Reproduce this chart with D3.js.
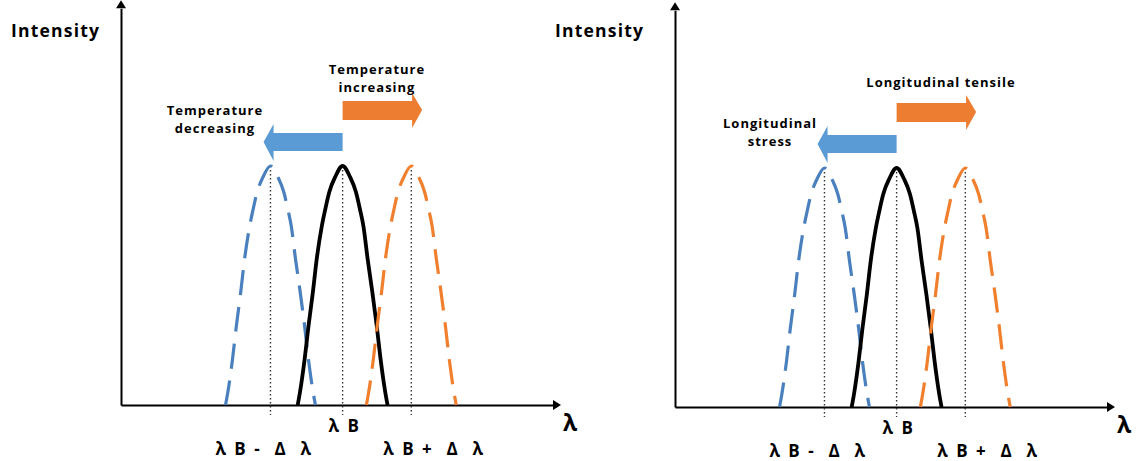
<!DOCTYPE html>
<html>
<head>
<meta charset="utf-8">
<script src="https://cdn.jsdelivr.net/npm/d3@7"></script>
<style>
  body { margin: 0; background: #fff; }
  text { font-family: "Open Sans", sans-serif; font-weight: bold; fill: #000; white-space: pre; }
</style>
</head>
<body>
<script>
// spectrum shape (relative wavelength units, 0..100 along the axis)
const intensity    = [0, 0.05, 0.19, 0.33, 0.47, 0.61, 0.75, 0.82, 0.89, 0.955, 1, 0.955, 0.89, 0.82, 0.75, 0.61, 0.47, 0.33, 0.19, 0.05, 0];
const blueLambda   = [24.2, 24.7, 25.8, 26.7, 27.7, 28.6, 29.8, 30.6, 31.5, 32.9, 34.6, 36.3, 37.7, 38.6, 39.4, 40.4, 41.5, 42.5, 43.4, 44.5, 45.0];
const blackLambda  = [40.9, 41.4, 42.5, 43.4, 44.4, 45.3, 46.5, 47.3, 48.2, 49.6, 51.3, 53.0, 54.4, 55.3, 56.1, 57.1, 58.2, 59.2, 60.1, 61.2, 61.7];
const orangeLambda = [56.8, 57.3, 58.4, 59.3, 60.3, 61.2, 62.4, 63.2, 64.1, 65.5, 67.2, 68.9, 70.3, 71.2, 72.0, 73.0, 74.1, 75.1, 76.0, 77.1, 77.6];

const peakCenters = [34.6, 51.3, 67.2];
const peakLabels  = ["λ B -  Δ  λ", "λ B", "λ B +  Δ  λ"];

const leftShiftText  = [["Temperature", "decreasing"], ["Temperature", "increasing"]];
const rightShiftText = [["Longitudinal", "stress"], ["Longitudinal tensile"]];

const W = 1138, H = 461;
const plotW = 432, plotH = 239;

const x = d3.scaleLinear().domain([0, 100]).range([0, plotW]);
const y = d3.scaleLinear().domain([0, 1]).range([plotH, 0]);
const yAxisScale = d3.scaleLinear().domain([0, 1.66]).range([y(0), y(1.66)]);

const line = d3.line()
  .x(d => x(d[0]))
  .y(d => y(d[1]))
  .curve(d3.curveMonotoneX);

const series = [
  {lam: blueLambda,   color: "#4a80bd", width: 3.2, dash: "25,12"},
  {lam: blackLambda,  color: "#000",    width: 3.8, dash: null},
  {lam: orangeLambda, color: "#f07f2e", width: 3.2, dash: "25,12"}
];

const panels = [
  {ox: 121, oy: 166, intensityX: 11,  shiftText: leftShiftText,
   textPos: [[94, -51], [256, -92]]},
  {ox: 675, oy: 168, intensityX: 555, shiftText: rightShiftText,
   textPos: [[95, -40], [266, -81]]}
];

const svg = d3.select("body").append("svg")
  .attr("width", W)
  .attr("height", H);

svg.append("rect").attr("width", W).attr("height", H).attr("fill", "#fff");

panels.forEach(p => {
  const g = svg.append("g").attr("transform", `translate(${p.ox},${p.oy})`);

  // "Intensity" title
  svg.append("text")
    .attr("x", p.intensityX)
    .attr("y", 37)
    .style("font-size", "17.5px")
    .style("letter-spacing", "1.2px")
    .text("Intensity");

  // x axis
  const xa = g.append("g")
    .attr("transform", `translate(0,${y(0)})`)
    .call(d3.axisBottom(x).tickValues([]).tickSizeOuter(0));
  xa.select(".domain").attr("stroke", "#000").attr("stroke-width", 2);
  g.append("path")
    .attr("d", `M${x(100)},${y(0) - 5}L${x(100) + 8},${y(0)}L${x(100)},${y(0) + 5}Z`)
    .attr("fill", "#000");

  // y axis
  const ya = g.append("g")
    .call(d3.axisLeft(yAxisScale).tickValues([]).tickSizeOuter(0));
  ya.select(".domain").attr("stroke", "#000").attr("stroke-width", 2);
  const yTop = yAxisScale(1.66);
  g.append("path")
    .attr("d", `M-5,${yTop}L0,${yTop - 8}L5,${yTop}Z`)
    .attr("fill", "#000");

  g.append("text")
    .attr("x", x(100) + 10)
    .attr("y", y(0) + 26)
    .style("font-size", "23px")
    .text("λ");

  // dotted centre lines
  g.selectAll("line.centre")
    .data(peakCenters)
    .enter()
    .append("line")
    .attr("class", "centre")
    .attr("x1", d => x(d))
    .attr("x2", d => x(d))
    .attr("y1", y(1) + 4)
    .attr("y2", y(0) + 10)
    .attr("stroke", "#333")
    .attr("stroke-width", 1.4)
    .attr("stroke-dasharray", "1.5,2.5");

  // spectra
  series.forEach(s => {
    g.append("path")
      .datum(s.lam.map((l, i) => [l, intensity[i]]))
      .attr("d", line)
      .attr("fill", "none")
      .attr("stroke", s.color)
      .attr("stroke-width", s.width)
      .attr("stroke-dasharray", s.dash);
  });

  // wavelength labels
  const labelDx = [-55, -14, -28];
  const labelDy = [50, 27, 50];
  g.selectAll("text.plabel")
    .data(peakLabels)
    .enter()
    .append("text")
    .attr("class", "plabel")
    .attr("x", (d, i) => x(peakCenters[i]) + labelDx[i])
    .attr("y", (d, i) => y(0) + labelDy[i])
    .style("font-size", "17px")
    .style("letter-spacing", "2px")
    .text(d => d);

  // shift arrows: blue to the left, orange to the right
  const x0 = x(peakCenters[1]);
  const blueTip = x(33), orangeTip = x(69.7);
  g.append("path")
    .attr("d", `M${x0},-33L${blueTip + 10},-33L${blueTip + 10},-42L${blueTip},-24L${blueTip + 10},-5L${blueTip + 10},-15L${x0},-15Z`)
    .attr("fill", "#5b9bd5");
  g.append("path")
    .attr("d", `M${x0},-65L${orangeTip - 10},-65L${orangeTip - 10},-73L${orangeTip},-56L${orangeTip - 10},-38L${orangeTip - 10},-46L${x0},-46Z`)
    .attr("fill", "#ed7d31");

  p.shiftText.forEach((lines, i) => {
    const t = g.append("text")
      .attr("text-anchor", "middle")
      .style("font-size", "13px")
      .style("letter-spacing", "1px");
    lines.forEach((s, j) => {
      t.append("tspan")
        .attr("x", p.textPos[i][0])
        .attr("y", p.textPos[i][1] + j * 18)
        .text(s);
    });
  });
});
</script>
</body>
</html>
